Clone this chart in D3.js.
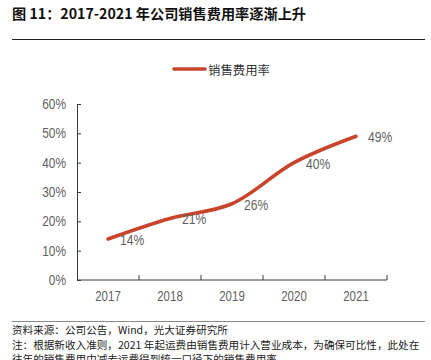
<!DOCTYPE html>
<html>
<head>
<meta charset="utf-8">
<script src="https://cdn.jsdelivr.net/npm/d3@7/dist/d3.min.js"></script>
<style>
  html, body { margin: 0; padding: 0; background: #fff; }
  svg { display: block; }
</style>
</head>
<body>
<svg id="chart" width="431" height="360"></svg>
<script>
const years = ["2017", "2018", "2019", "2020", "2021"];
const salesExpenseRatio = [14, 21, 26, 40, 49];
const yTicks = [0, 10, 20, 30, 40, 50, 60];
const seriesName = "销售费用率";
const titleText = "图 11：2017-2021 年公司销售费用率逐渐上升";
const footerLines = [
  "资料来源：公司公告，Wind，光大证券研究所",
  "注：根据新收入准则，2021 年起运费由销售费用计入营业成本，为确保可比性，此处在",
  "往年的销售费用中减去运费得到统一口径下的销售费用率"
];

const svg = d3.select("#chart");
const cjk = "'Noto Sans CJK SC', 'Noto Sans', sans-serif";
const narrow = "'Liberation Sans Narrow', 'Arial Narrow', 'Liberation Sans', Arial, sans-serif";
const lineColor = "#C8452B";
const axisColor = "#3a3a3a";
const labelColor = "#5f5f5f";

function condense(sel, k) {
  sel.each(function () {
    const w = this.getComputedTextLength();
    d3.select(this).attr("textLength", w * k).attr("lengthAdjust", "spacingAndGlyphs");
  });
}

// Title
svg.append("text")
  .attr("x", 12).attr("y", 19)
  .attr("font-family", cjk).attr("font-weight", "bold")
  .attr("font-size", 14.2).attr("fill", "#111")
  .text(titleText);
svg.append("line")
  .attr("x1", 12).attr("x2", 425).attr("y1", 39.5).attr("y2", 39.5)
  .attr("stroke", "#222").attr("stroke-width", 1);

// Scales
const x = d3.scaleBand().domain(years).range([77, 387]);
const y = d3.scaleLinear().domain([0, 60]).range([280, 104]);

// Y axis
const yAxis = d3.axisLeft(y).tickValues(yTicks).tickFormat(d => d + "%")
  .tickSizeInner(-4).tickSizeOuter(0).tickPadding(11);
const gy = svg.append("g").attr("transform", "translate(77,0)").call(yAxis);
gy.select(".domain").attr("stroke", axisColor);
gy.selectAll(".tick line").attr("stroke", axisColor);
gy.selectAll(".tick text").attr("font-family", narrow).attr("font-size", 14)
  .attr("fill", labelColor).call(condense, 0.85);

// X axis labels
const xAxis = d3.axisBottom(x).tickSize(0).tickPadding(11);
const gx = svg.append("g").attr("transform", "translate(0,280)").call(xAxis);
gx.select(".domain").remove();
gx.selectAll(".tick text").attr("font-family", narrow).attr("font-size", 14)
  .attr("fill", labelColor).call(condense, 0.82);
// X axis line and boundary ticks
svg.append("line")
  .attr("x1", x.range()[0]).attr("x2", x.range()[1])
  .attr("y1", y(0)).attr("y2", y(0))
  .attr("stroke", axisColor).attr("stroke-width", 1);
const bounds = years.slice(1).map(d => x(d)).concat([x.range()[1]]);
svg.selectAll(".xb").data(bounds).enter().append("line")
  .attr("x1", d => d).attr("x2", d => d)
  .attr("y1", y(0)).attr("y2", y(0) - 5)
  .attr("stroke", axisColor).attr("stroke-width", 1);

// Line
const pts = years.map((d, i) => ({ year: d, v: salesExpenseRatio[i] }));
const line = d3.line()
  .x(d => x(d.year) + x.bandwidth() / 2)
  .y(d => y(d.v))
  .curve(d3.curveCatmullRom.alpha(0.5));
svg.append("path").datum(pts)
  .attr("d", line)
  .attr("fill", "none").attr("stroke", lineColor)
  .attr("stroke-width", 3.6).attr("stroke-linecap", "round");

// Data labels
svg.selectAll(".dl").data(pts).enter().append("text")
  .attr("x", d => x(d.year) + x.bandwidth() / 2 + 12)
  .attr("y", d => y(d.v) + 6)
  .attr("font-family", narrow).attr("font-size", 14)
  .attr("fill", labelColor)
  .text(d => d.v + "%")
  .call(condense, 0.86);

// Legend
svg.append("line")
  .attr("x1", 174).attr("x2", 205).attr("y1", 69).attr("y2", 69)
  .attr("stroke", lineColor).attr("stroke-width", 3.6).attr("stroke-linecap", "round");
svg.append("text")
  .attr("x", 208).attr("y", 74.5)
  .attr("font-family", cjk).attr("font-size", 12.4).attr("fill", "#333")
  .text(seriesName);

// Footer
svg.append("line")
  .attr("x1", 12).attr("x2", 425).attr("y1", 321.5).attr("y2", 321.5)
  .attr("stroke", "#8a8a8a").attr("stroke-width", 1.2);
svg.selectAll(".ft").data(footerLines).enter().append("text")
  .attr("x", 12)
  .attr("y", (d, i) => 334 + i * 14.5)
  .attr("font-family", cjk).attr("font-size", 10.6).attr("fill", "#222")
  .text(d => d);
</script>
</body>
</html>
